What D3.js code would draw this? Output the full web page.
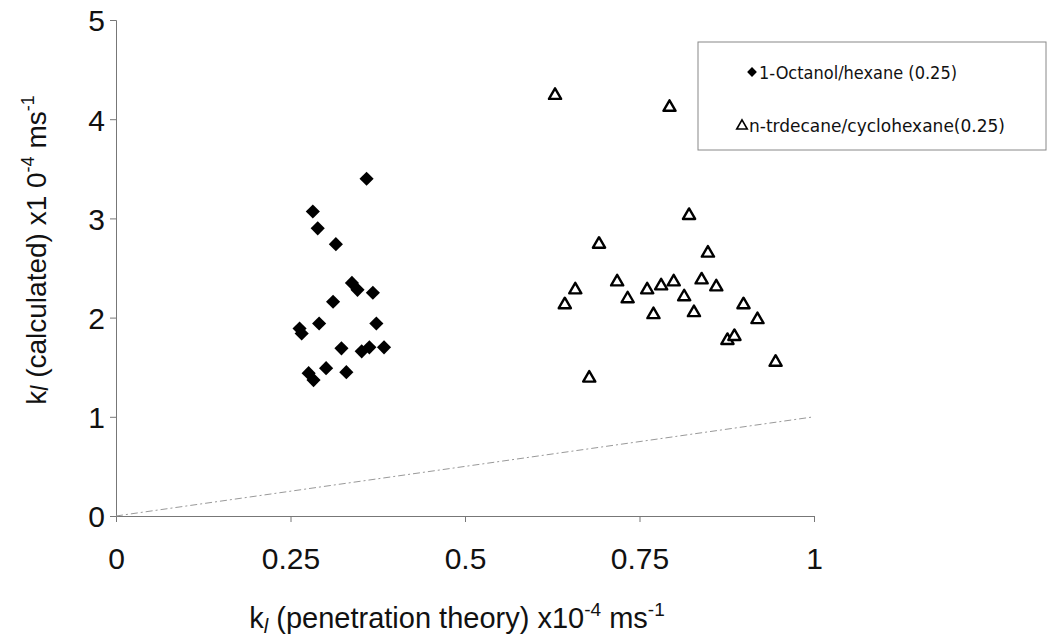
<!DOCTYPE html>
<html>
<head>
<meta charset="utf-8">
<script src="https://cdn.jsdelivr.net/npm/d3@7"></script>
<style>
  body { margin: 0; background: #fff; }
  svg { font-family: "Liberation Sans", Arial, sans-serif; }
</style>
</head>
<body>
<svg id="chart" width="1047" height="640"></svg>
<script>
// 1-Octanol/hexane (0.25)
const octX = [0.359, 0.282, 0.289, 0.315, 0.338, 0.346, 0.368, 0.311, 0.263, 0.266,
              0.291, 0.373, 0.323, 0.352, 0.363, 0.384, 0.301, 0.276, 0.283, 0.330];
const octY = [3.40, 3.07, 2.90, 2.74, 2.35, 2.28, 2.25, 2.16, 1.89, 1.84,
              1.94, 1.94, 1.69, 1.66, 1.70, 1.70, 1.49, 1.44, 1.37, 1.45];
// n-tridecane/cyclohexane (0.25)
const triX = [0.629, 0.793, 0.692, 0.821, 0.848, 0.658, 0.643, 0.718, 0.733, 0.761, 0.781, 0.799,
              0.770, 0.814, 0.839, 0.860, 0.828, 0.899, 0.919, 0.876, 0.886, 0.945, 0.678];
const triY = [4.24, 4.12, 2.74, 3.03, 2.65, 2.28, 2.13, 2.36, 2.19, 2.28, 2.32, 2.36,
              2.03, 2.21, 2.38, 2.31, 2.05, 2.13, 1.98, 1.77, 1.81, 1.55, 1.39];

const xTicks = [0, 0.25, 0.5, 0.75, 1];
const yTicks = [0, 1, 2, 3, 4, 5];
const legendLabels = ["1-Octanol/hexane (0.25)", "n-trdecane/cyclohexane(0.25)"];

const svg = d3.select("#chart");

const x = d3.scaleLinear().domain([0, 1]).range([116, 814]);
const y = d3.scaleLinear().domain([0, 5]).range([516, 20]);

// axes
const xAxis = svg.append("g")
  .attr("transform", `translate(0,${y(0)})`)
  .call(d3.axisBottom(x).tickValues(xTicks).tickSize(6).tickFormat(d => d));
const yAxis = svg.append("g")
  .attr("transform", `translate(${x(0)},0)`)
  .call(d3.axisLeft(y).tickValues(yTicks).tickSize(6).tickFormat(d => d));

[xAxis, yAxis].forEach(g => {
  g.select(".domain").attr("stroke", "#777").attr("stroke-width", 1);
  g.selectAll(".tick line").attr("stroke", "#777");
  g.selectAll(".tick text")
    .attr("fill", "#111")
    .style("font-size", "30px")
    .style("font-family", "'Liberation Sans', Arial, sans-serif");
});
xAxis.selectAll(".tick text").attr("y", 53).attr("dy", 0);
yAxis.selectAll(".tick text").attr("x", -11).attr("dy", "0.36em");

// y = x reference line
svg.append("line")
  .attr("x1", x(0)).attr("y1", y(0))
  .attr("x2", x(1)).attr("y2", y(1))
  .attr("stroke", "#999")
  .attr("stroke-width", 1)
  .attr("stroke-dasharray", "7,3,2,3");

// points
const diamond = d3.symbol().type(d3.symbolSquare).size(100);
svg.append("g").selectAll("path")
  .data(octX.map((v, i) => [v, octY[i]]))
  .join("path")
  .attr("d", diamond)
  .attr("transform", d => `translate(${x(d[0])},${y(d[1])}) rotate(45)`)
  .attr("fill", "#000");

const tri = d3.symbol().type(d3.symbolTriangle).size(64);
svg.append("g").selectAll("path")
  .data(triX.map((v, i) => [v, triY[i]]))
  .join("path")
  .attr("d", tri)
  .attr("transform", d => `translate(${x(d[0])},${y(d[1])})`)
  .attr("fill", "#fff")
  .attr("stroke", "#000")
  .attr("stroke-width", 2.4)
  .attr("stroke-linejoin", "round");

// axis titles
const xt = svg.append("text")
  .attr("x", 457).attr("y", 628)
  .attr("text-anchor", "middle")
  .attr("fill", "#111")
  .style("font-size", "29px");
xt.append("tspan").text("k");
xt.append("tspan").attr("font-style", "italic").attr("font-size", "20px").attr("dy", 5).text("l");
xt.append("tspan").attr("dy", -5).text(" (penetration theory) x10");
xt.append("tspan").attr("font-size", "19px").attr("dy", -12).text("-4");
xt.append("tspan").attr("dy", 12).text(" ms");
xt.append("tspan").attr("font-size", "19px").attr("dy", -12).text("-1");

const yt = svg.append("text")
  .attr("transform", "translate(46,250) rotate(-90)")
  .attr("text-anchor", "middle")
  .attr("fill", "#111")
  .style("font-size", "28px");
yt.append("tspan").text("k");
yt.append("tspan").attr("font-style", "italic").attr("font-size", "23px").attr("dy", 2).text("l");
yt.append("tspan").attr("dy", -2).text(" (calculated) x1 0");
yt.append("tspan").attr("font-size", "18px").attr("dy", -12).text("-4");
yt.append("tspan").attr("dy", 12).text(" ms");
yt.append("tspan").attr("font-size", "18px").attr("dy", -12).text("-1");

// legend
const lg = svg.append("g");
lg.append("rect")
  .attr("x", 698).attr("y", 42).attr("width", 348).attr("height", 108)
  .attr("fill", "#fff").attr("stroke", "#888").attr("stroke-width", 1);
lg.append("path")
  .attr("d", d3.symbol().type(d3.symbolSquare).size(48))
  .attr("transform", "translate(752,72) rotate(45)")
  .attr("fill", "#000");
lg.append("path")
  .attr("d", d3.symbol().type(d3.symbolTriangle).size(48))
  .attr("transform", "translate(742,126)")
  .attr("fill", "none").attr("stroke", "#000").attr("stroke-width", 1.6);
const legendFont = "'DejaVu Sans Condensed', 'DejaVu Sans', sans-serif";
lg.append("text")
  .attr("x", 759).attr("y", 79)
  .attr("textLength", 198).attr("lengthAdjust", "spacingAndGlyphs")
  .style("font-family", legendFont).style("font-size", "18px").attr("fill", "#111")
  .text(legendLabels[0]);
lg.append("text")
  .attr("x", 749).attr("y", 132)
  .attr("textLength", 256).attr("lengthAdjust", "spacingAndGlyphs")
  .style("font-family", legendFont).style("font-size", "18px").attr("fill", "#111")
  .text(legendLabels[1]);
</script>
</body>
</html>
